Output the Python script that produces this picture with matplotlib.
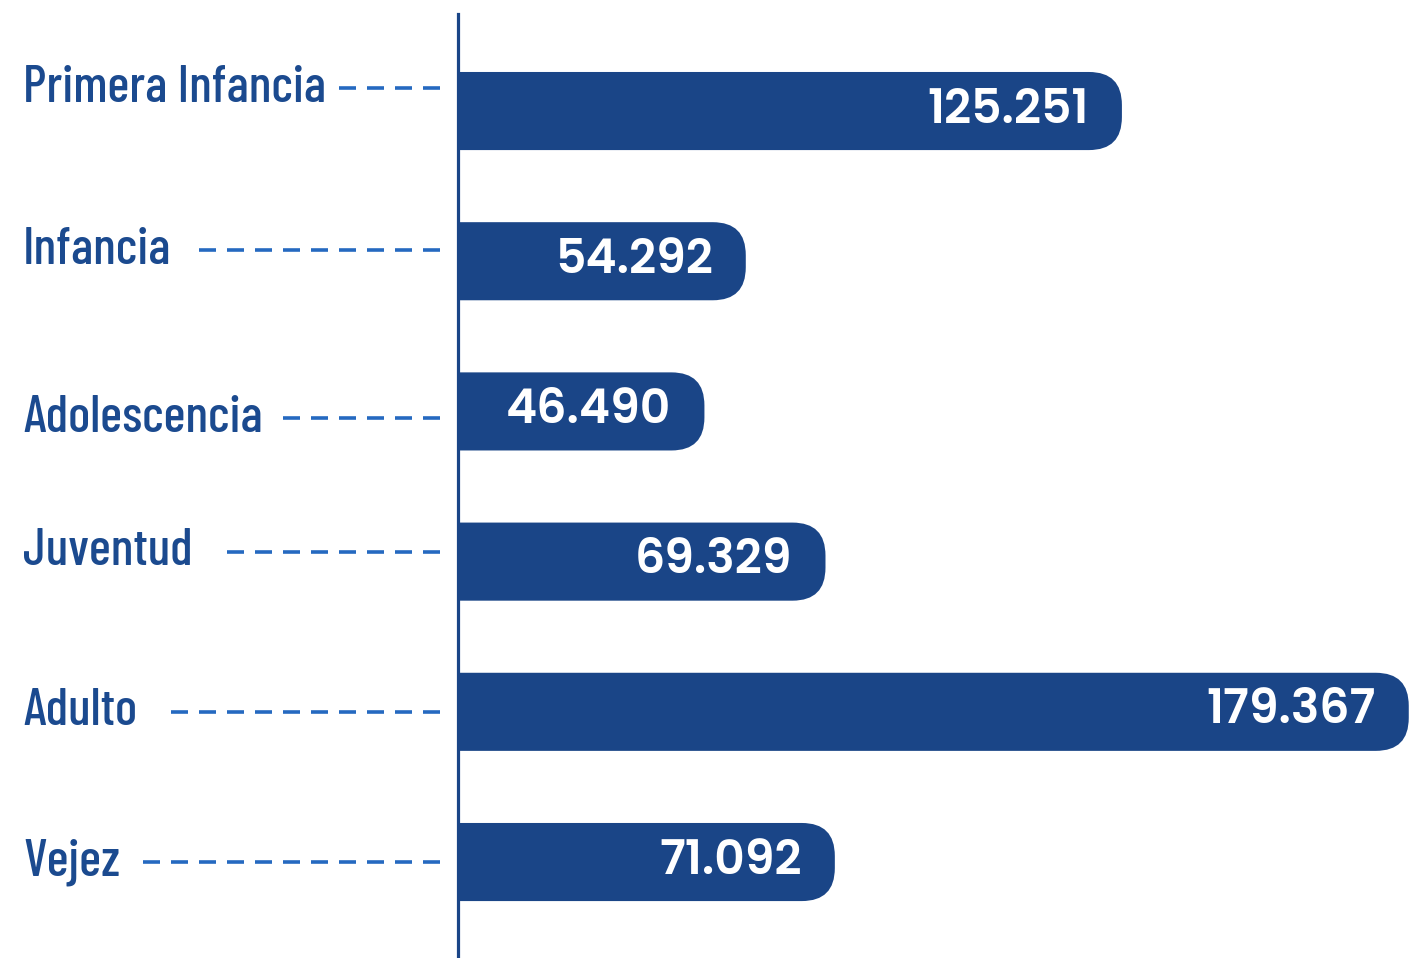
import math
import matplotlib
matplotlib.use("Agg")
import matplotlib.pyplot as plt
from matplotlib.patches import FancyBboxPatch
from matplotlib.lines import Line2D
from matplotlib import transforms

# ---- data ----
categories = ["Primera Infancia", "Infancia", "Adolescencia", "Juventud", "Adulto", "Vejez"]
values = [125.251, 54.292, 46.490, 69.329, 179.367, 71.092]
value_labels = ["125.251", "54.292", "46.490", "69.329", "179.367", "71.092"]

# ---- style ----
label_offsets = [-0.153, -0.073, 0.047, -0.067, 0.0, 0.0]   # vertical nudge of category labels
BAR = "#1a4587"
LABEL = "#1b4a8f"
DASH = "#2569c0"
LABEL_FONT = ["Barlow Condensed", "DejaVu Sans"]
VALUE_FONT = ["Poppins", "Lato", "DejaVu Sans"]

W, H = 1410, 958
fig = plt.figure(figsize=(W / 100, H / 100), dpi=100)
fig.patch.set_facecolor("white")
ax = fig.add_axes([458 / W, 0, 1 - 458 / W, 1 - 14 / H])
ax.set_xlim(0, 179.6)
ax.set_ylim(5.639, -0.646)

bars = ax.barh(range(len(values)), values, height=0.52, color=BAR)

# rounded right ends
p0 = ax.transData.transform((0, 0))
p1 = ax.transData.transform((1, 1))
px_x = abs(p1[0] - p0[0])
px_y = abs(p1[1] - p0[1])
radius_px = 33
r_x = radius_px / px_x
aspect = (radius_px / px_y) / r_x
for b in bars:
    x, y, w, h = b.get_x(), b.get_y(), b.get_width(), b.get_height()
    b.set_visible(False)
    patch = FancyBboxPatch((x - 2 * r_x, y), w + 2 * r_x, h,
                           boxstyle=f"round,pad=0,rounding_size={r_x}",
                           mutation_aspect=aspect, fc=BAR, ec="none", zorder=2)
    ax.add_patch(patch)

for s in ["top", "right", "bottom"]:
    ax.spines[s].set_visible(False)
ax.spines["left"].set_color(BAR)
ax.spines["left"].set_linewidth(2.3)
ax.spines["left"].set_zorder(3)
ax.set_xticks([])
ax.set_yticks([])
ax.patch.set_visible(False)

# value labels
for i, (v, lab) in enumerate(zip(values, value_labels)):
    ax.annotate(lab, xy=(v, i), xytext=(-33, 0), textcoords="offset pixels",
                ha="right", va="center", color="white", fontsize=34,
                fontweight="semibold", family=VALUE_FONT, zorder=4)

# category labels + dashed leaders
trans = transforms.blended_transform_factory(fig.transFigure, ax.transData)
texts = []
for i, (c, off) in enumerate(zip(categories, label_offsets)):
    t = ax.text(23 / W, i + off, c, transform=trans, ha="left", va="center",
                color=LABEL, fontsize=37.5, fontweight="medium",
                fontstretch="condensed", family=LABEL_FONT, clip_on=False)
    texts.append(t)

fig.canvas.draw()
renderer = fig.canvas.get_renderer()
LW = 2.6                      # points
DASH_PX, GAP_PX = 17.0, 11.0
pt = 100 / 72.0
dash_style = (0, (DASH_PX / pt / LW, GAP_PX / pt / LW))
for i, (t, off) in enumerate(zip(texts, label_offsets)):
    bb = t.get_window_extent(renderer)
    end_px = 440.0
    avail = end_px - (bb.x1 + 8)
    n = max(1, int(math.floor((avail + GAP_PX) / (DASH_PX + GAP_PX))))
    start_px = end_px - n * (DASH_PX + GAP_PX) + GAP_PX
    ln = Line2D([end_px / W, start_px / W], [i + off, i + off], transform=trans,
                color=DASH, linewidth=LW, linestyle=dash_style,
                dash_capstyle="butt", clip_on=False)
    ax.add_line(ln)

fig.savefig("out.png", dpi=100, facecolor="white")
